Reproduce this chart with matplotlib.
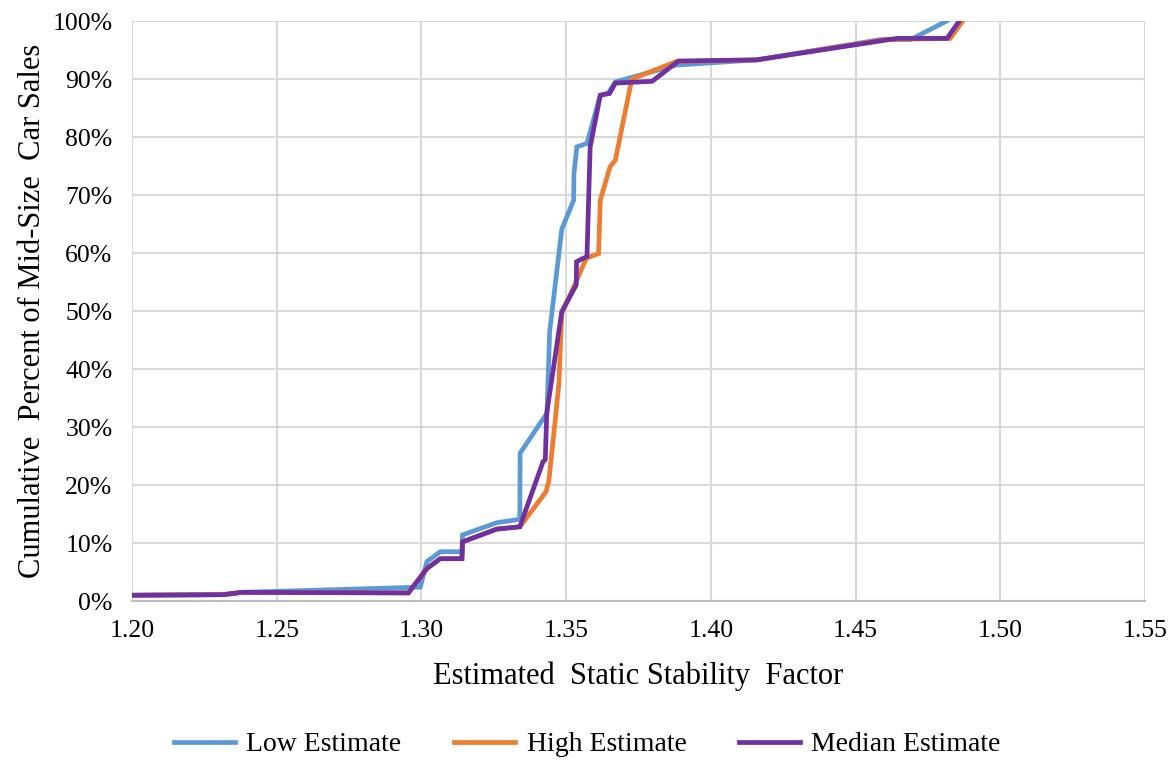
import matplotlib
matplotlib.use("Agg")
import matplotlib.pyplot as plt
from matplotlib.ticker import FuncFormatter

plt.rcParams['font.family'] = ['Liberation Serif', 'DejaVu Serif']

# Low estimate
low_x = [1.200, 1.2315, 1.238, 1.2996, 1.3019, 1.3065, 1.3140, 1.3142, 1.3260, 1.3340, 1.3341,
         1.3434, 1.3443, 1.3485, 1.3526, 1.3527, 1.3537, 1.3572, 1.3618, 1.3646, 1.3670,
         1.3880, 1.4159, 1.4586, 1.4690, 1.4815]
low_y = [1.0, 1.1, 1.5, 2.4, 6.8, 8.5, 8.5, 11.4, 13.5, 14.1, 25.5,
         32.4, 46.4, 64.1, 69.1, 73.7, 78.3, 78.9, 87.2, 87.6, 89.5,
         92.4, 93.3, 96.8, 96.8, 100.0]

# High estimate
high_x = [1.200, 1.2315, 1.238, 1.2955, 1.3019, 1.3065, 1.3140, 1.3142, 1.3260, 1.3340,
          1.3430, 1.3440, 1.3462, 1.3475, 1.3485, 1.3532, 1.3570, 1.3612, 1.3618, 1.3652,
          1.3670, 1.3727, 1.3880, 1.4159, 1.4600, 1.4827, 1.4870]
high_y = [1.0, 1.1, 1.5, 1.4, 5.6, 7.3, 7.3, 10.2, 12.4, 12.8,
          18.8, 20.6, 31.0, 37.5, 49.6, 54.8, 59.1, 59.9, 69.1, 74.9,
          76.0, 90.0, 93.0, 93.3, 96.8, 97.0, 100.0]

# Median estimate
med_x = [1.200, 1.2315, 1.238, 1.2955, 1.3019, 1.3065, 1.3140, 1.3142, 1.3260, 1.3340,
         1.3420, 1.3428, 1.3433, 1.3485, 1.3535, 1.3536, 1.3572, 1.3583, 1.3618, 1.3650,
         1.3670, 1.3797, 1.3888, 1.4159, 1.4643, 1.4816, 1.4858]
med_y = [1.0, 1.1, 1.5, 1.4, 5.6, 7.3, 7.3, 10.2, 12.4, 12.8,
         24.0, 24.4, 32.4, 49.9, 54.5, 58.5, 59.4, 78.3, 87.2, 87.5,
         89.3, 89.6, 93.1, 93.3, 97.0, 97.0, 100.0]

x_ticks = [1.20, 1.25, 1.30, 1.35, 1.40, 1.45, 1.50, 1.55]
y_ticks = [0, 10, 20, 30, 40, 50, 60, 70, 80, 90, 100]

fig = plt.figure(figsize=(11.75, 7.61), dpi=100)
ax = fig.add_axes([0.1123, 0.2102, 0.8622, 0.7622])

lw = 3.4
ax.plot(low_x, low_y, color='#5B9BD5', lw=lw, label='Low Estimate', solid_joinstyle='miter', zorder=3)
ax.plot(high_x, high_y, color='#ED7D31', lw=lw, label='High Estimate', solid_joinstyle='miter', zorder=4)
ax.plot(med_x, med_y, color='#7030A0', lw=lw, label='Median Estimate', solid_joinstyle='miter', zorder=5)

ax.set_xlim(1.20, 1.55)
ax.set_ylim(0, 100)
ax.set_xticks(x_ticks)
ax.set_yticks(y_ticks)
ax.xaxis.set_major_formatter(FuncFormatter(lambda v, p: f"{v:.2f}"))
ax.yaxis.set_major_formatter(FuncFormatter(lambda v, p: f"{v:.0f}%"))
ax.tick_params(length=0, labelsize=18.5)
ax.tick_params(axis='x', pad=14)
ax.tick_params(axis='y', pad=14)
ax.grid(True, color='#d9d9d9', lw=1.5, zorder=0)
ax.set_axisbelow(True)
for s in ['top', 'right', 'left']:
    ax.spines[s].set_visible(False)
ax.spines['bottom'].set_color('#bfbfbf')
ax.spines['bottom'].set_linewidth(1.5)

ax.set_xlabel('Estimated  Static Stability  Factor', fontsize=22, labelpad=14)
ax.set_ylabel('Cumulative  Percent of Mid-Size  Car Sales', fontsize=22, labelpad=4)

fig.legend(loc='lower center', bbox_to_anchor=(0.5, -0.028), ncol=3, frameon=False,
           fontsize=20, handlelength=2.2, handletextpad=0.4, columnspacing=1.9)

fig.savefig('out.png', dpi=100)
